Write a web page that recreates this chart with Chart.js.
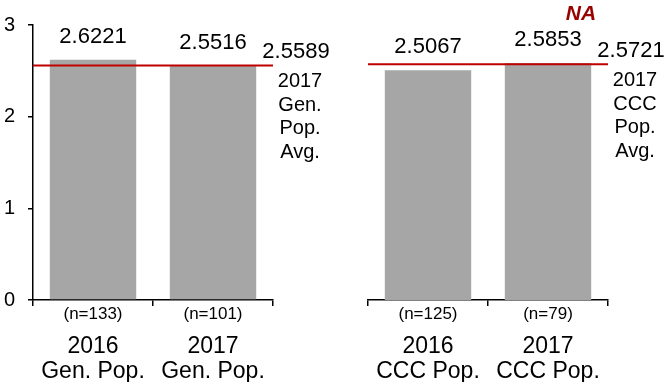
<!DOCTYPE html>
<html>
<head>
<meta charset="utf-8">
<script src="https://cdn.jsdelivr.net/npm/chart.js@4.4.0/dist/chart.umd.min.js"></script>
<style>
  html, body { margin: 0; padding: 0; background: #fff; }
  #wrap { position: relative; width: 667px; height: 382px; overflow: hidden; }
  canvas { position: absolute; top: 0; }
  #left { left: 0; }
  #right { left: 340px; }
</style>
</head>
<body>
<div id="wrap">
  <canvas id="left" width="340" height="382"></canvas>
  <canvas id="right" width="327" height="382"></canvas>
</div>
<script>
// chart data
const years = ['2016', '2017'];
const genLabel = 'Gen. Pop.';
const cccLabel = 'CCC Pop.';
const genValues = [2.6221, 2.5516];
const cccValues = [2.5067, 2.5853];
const genCounts = ['(n=133)', '(n=101)'];
const cccCounts = ['(n=125)', '(n=79)'];
const genAvg = 2.5589;
const cccAvg = 2.5721;
const genAvgCaption = ['2017', 'Gen.', 'Pop.', 'Avg.'];
const cccAvgCaption = ['2017', 'CCC', 'Pop.', 'Avg.'];
const cccNotes = ['', 'NA'];
const yMin = 0, yMax = 3, yStep = 1;

const FONT = "Arial, 'Liberation Sans', sans-serif";
const BAR = '#a6a6a6';
const RED = '#c00000';
const NA_RED = '#990000';

Chart.defaults.font.family = FONT;
Chart.defaults.color = '#000';

// draws value labels, avg line + caption and the multi-line category labels
function overlay(values, counts, group, avg, caption, notes) {
  return {
    id: 'overlay',
    afterDatasetsDraw(chart) {
      const ctx = chart.ctx;
      const area = chart.chartArea;
      const y = chart.scales.y;
      const x = chart.scales.x;
      const bars = chart.getDatasetMeta(0).data;
      ctx.save();
      ctx.textAlign = 'center';
      ctx.textBaseline = 'alphabetic';

      // values above bars
      bars.forEach((b, i) => {
        ctx.fillStyle = '#000';
        ctx.font = '22px ' + FONT;
        ctx.fillText(values[i].toFixed(4), b.x, b.y - 17);
        if (notes && notes[i]) {
          ctx.fillStyle = NA_RED;
          ctx.font = 'italic bold 21px ' + FONT;
          ctx.fillText(notes[i], b.x + 33, b.y - 43);
        }
      });

      // average line
      const ay = y.getPixelForValue(avg);
      ctx.strokeStyle = RED;
      ctx.lineWidth = 2;
      ctx.beginPath();
      ctx.moveTo(area.left, ay);
      ctx.lineTo(area.right, ay);
      ctx.stroke();

      ctx.fillStyle = '#000';
      ctx.font = '22px ' + FONT;
      ctx.fillText(avg.toFixed(4), area.right + 23, ay - 7);
      ctx.font = '20px ' + FONT;
      caption.forEach((t, i) => {
        ctx.fillText(t, area.right + 27, ay + 22 + i * 23.5);
      });

      // category labels under the axis
      years.forEach((yr, i) => {
        const cx = x.getPixelForValue(i);
        ctx.font = '17px ' + FONT;
        ctx.fillText(counts[i], cx, 319);
        ctx.font = '23px ' + FONT;
        ctx.fillText(yr, cx, 353);
        ctx.fillText(group, cx, 378);
      });
      ctx.restore();
    }
  };
}

function makeChart(id, values, counts, group, avg, caption, notes, showY, padding) {
  return new Chart(document.getElementById(id), {
    type: 'bar',
    data: {
      labels: years,
      datasets: [{
        data: values,
        backgroundColor: BAR,
        borderWidth: 0,
        barPercentage: 0.72,
        categoryPercentage: 1
      }]
    },
    options: {
      responsive: false,
      animation: false,
      devicePixelRatio: 1,
      layout: { padding: padding },
      plugins: { legend: { display: false }, tooltip: { enabled: false } },
      scales: {
        x: {
          grid: { offset: true, drawOnChartArea: false, drawTicks: true, tickLength: 6, color: '#000', lineWidth: 1.5 },
          border: { display: true, color: '#000', width: 1.5 },
          ticks: { display: false },
          afterFit(s) { s.height = 82; }
        },
        y: {
          display: showY,
          min: yMin,
          max: yMax,
          grid: { drawOnChartArea: false, drawTicks: true, tickLength: 5, color: '#000', lineWidth: 1.5 },
          border: { display: true, color: '#000', width: 1.5 },
          ticks: { stepSize: yStep, padding: 13, font: { size: 20 }, color: '#000' },
          afterFit(s) { s.width = showY ? 33 : 0; }
        }
      }
    },
    plugins: [overlay(values, counts, group, avg, caption, notes)]
  });
}

makeChart('left', genValues, genCounts, genLabel, genAvg, genAvgCaption, null, true,
  { top: 25, right: 67, bottom: 0, left: 0 });
makeChart('right', cccValues, cccCounts, cccLabel, cccAvg, cccAvgCaption, cccNotes, false,
  { top: 25, right: 59, bottom: 0, left: 28 });
</script>
</body>
</html>
